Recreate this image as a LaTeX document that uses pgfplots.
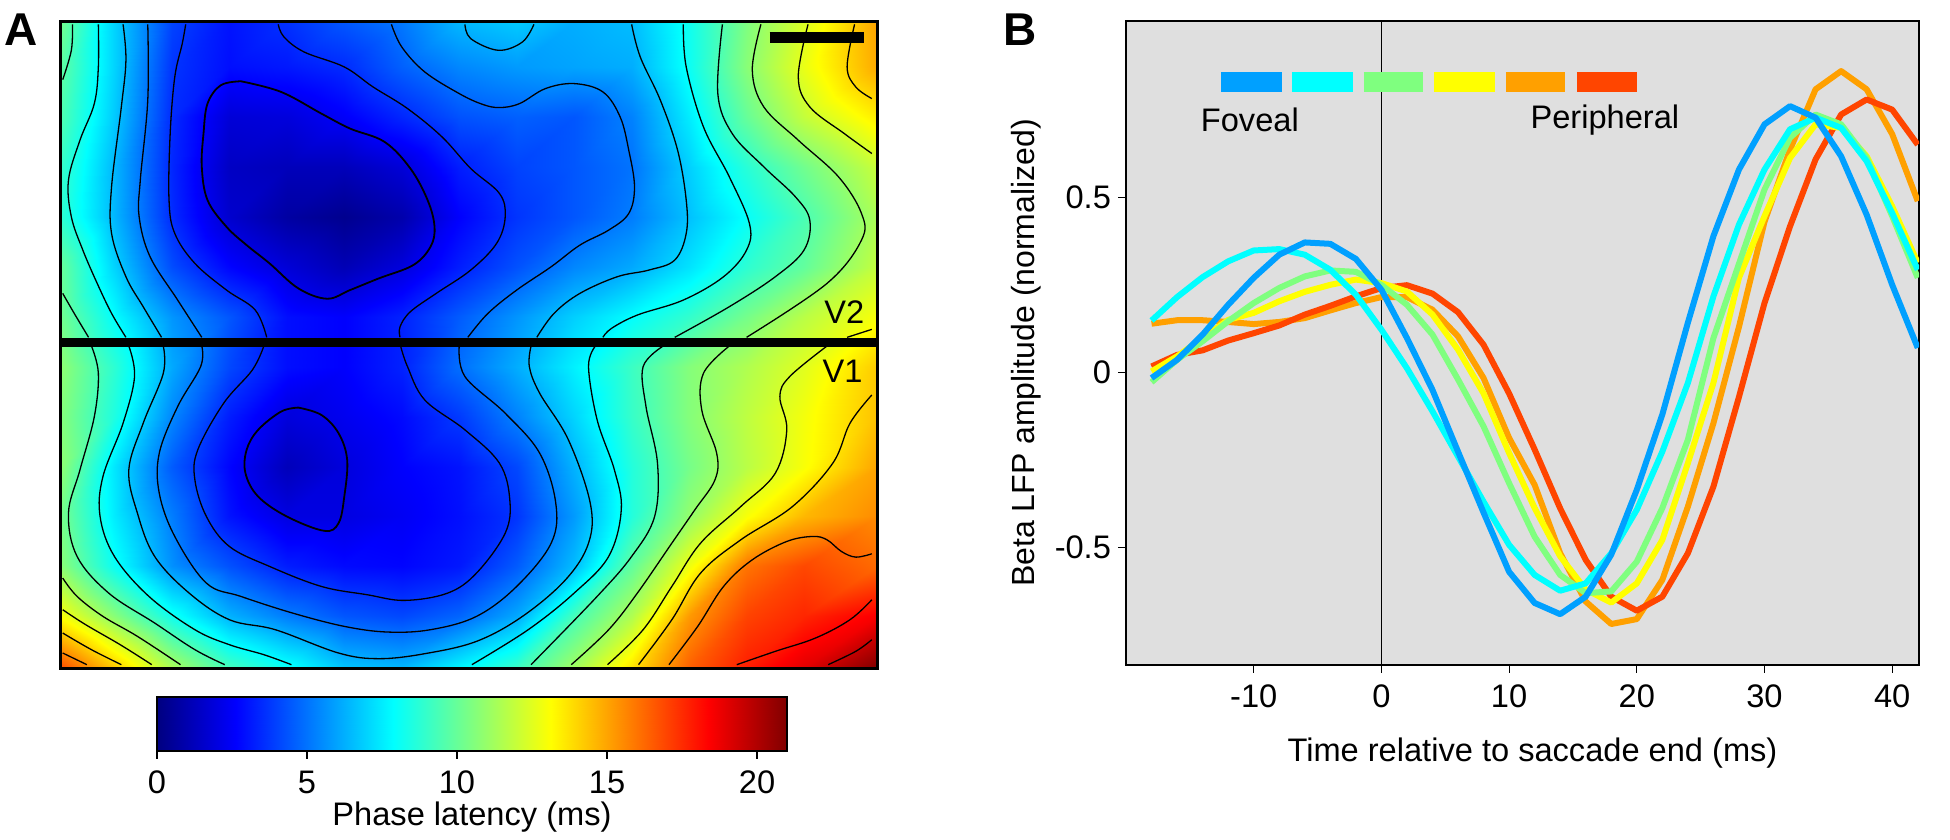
\documentclass[border=0pt]{standalone}
\usepackage{fontspec}
\setmainfont{Liberation Sans}
\usepackage{pgfplots}
\usepackage{pgfplotstable}
\pgfplotsset{compat=1.18}

\newcommand{\lab}{\fontsize{16.3}{19}\selectfont}
\definecolor{c1}{HTML}{00A0FF}
\definecolor{c2}{HTML}{00FFFF}
\definecolor{c3}{HTML}{7FFF7F}
\definecolor{c4}{HTML}{FFFF00}
\definecolor{c5}{HTML}{FFA000}
\definecolor{c6}{HTML}{FF4500}

\pgfplotsset{
  cline/.style={black, line width=0.65pt, smooth, tension=0.6},
  lower/.style={y filter/.expression={y+990}},
  curve/.style={line width=3pt, line join=round},
  key/.style={line width=10pt},
}

% beta LFP amplitude, one column per eccentricity
\pgfplotstableread{
t b c g y o r
-18 -0.016 0.148 -0.028 0.003 0.139 0.017
-16 0.036 0.215 0.036 0.046 0.149 0.05
-14 0.108 0.272 0.089 0.098 0.149 0.063
-12 0.193 0.317 0.146 0.15 0.144 0.091
-10 0.27 0.348 0.198 0.17 0.138 0.112
-8 0.336 0.352 0.241 0.203 0.144 0.134
-6 0.371 0.336 0.274 0.23 0.155 0.165
-4 0.367 0.293 0.291 0.25 0.177 0.19
-2 0.324 0.222 0.287 0.265 0.198 0.217
0 0.236 0.122 0.25 0.255 0.215 0.241
2 0.098 0.012 0.193 0.231 0.215 0.249
4 -0.05 -0.111 0.108 0.165 0.179 0.225
6 -0.226 -0.24 -0.02 0.065 0.103 0.172
8 -0.4 -0.369 -0.154 -0.06 -0.016 0.079
10 -0.569 -0.492 -0.316 -0.23 -0.187 -0.06
12 -0.658 -0.578 -0.469 -0.387 -0.321 -0.22
14 -0.69 -0.623 -0.578 -0.525 -0.516 -0.388
16 -0.64 -0.602 -0.63 -0.62 -0.654 -0.535
18 -0.52 -0.516 -0.625 -0.657 -0.718 -0.64
20 -0.335 -0.392 -0.54 -0.602 -0.704 -0.68
22 -0.12 -0.226 -0.387 -0.478 -0.592 -0.64
24 0.142 -0.03 -0.192 -0.259 -0.383 -0.516
26 0.389 0.217 0.098 -0.03 -0.145 -0.326
28 0.579 0.422 0.31 0.27 0.13 -0.07
30 0.708 0.579 0.522 0.446 0.43 0.198
32 0.76 0.694 0.67 0.612 0.636 0.417
34 0.727 0.727 0.736 0.708 0.808 0.608
36 0.617 0.698 0.708 0.698 0.86 0.736
38 0.45 0.603 0.612 0.617 0.808 0.779
40 0.25 0.455 0.446 0.474 0.68 0.75
42 0.07 0.293 0.27 0.313 0.489 0.65
}\lfp

\begin{document}
\begin{tikzpicture}
\useasboundingbox (0,0) rectangle (975pt,420pt);

\begin{axis}[
  at={(30.5pt,86pt)}, anchor=south west,
  scale only axis, width=408pt, height=323pt,
  xmin=107, xmax=1527, ymin=65, ymax=2005,
  y dir=reverse,
  ticks=none, axis line style={line width=1.5pt},
  axis on top,
  colormap/jet, point meta min=0, point meta max=21,
]
% latency on a coarse grid, x y latency
\addplot[surf, shader=interp, mesh/cols=15, point meta=explicit]
  table[meta=z, row sep=\\] {
x y z\\
107 65 10.2\\ 200 65 7\\ 300 65 4\\ 400 65 3\\ 500 65 3.6\\ 600 65 4.4\\ 700 65 5.1\\ 800 65 6.4\\ 900 65 6.8\\ 1000 65 6.2\\ 1100 65 6.5\\ 1200 65 8.2\\ 1300 65 10.5\\ 1400 65 12.4\\ 1527 65 15\\
107 200 9.8\\ 200 200 7\\ 300 200 3.7\\ 400 200 2.9\\ 500 200 3.1\\ 600 200 3.5\\ 700 200 4.6\\ 800 200 5.4\\ 900 200 5.8\\ 1000 200 6\\ 1100 200 6.2\\ 1200 200 8.1\\ 1300 200 10.7\\ 1400 200 12.7\\ 1527 200 14.9\\
107 350 9.5\\ 200 350 6.8\\ 300 350 3.5\\ 400 350 1.8\\ 500 350 1.9\\ 600 350 2.5\\ 700 350 3.4\\ 800 350 4.3\\ 900 350 4.6\\ 1000 350 4.4\\ 1100 350 5.3\\ 1200 350 7.5\\ 1300 350 10\\ 1400 350 11.9\\ 1527 350 13.5\\
107 500 9\\ 200 500 6.4\\ 300 500 3.4\\ 400 500 1.4\\ 500 500 1.2\\ 600 500 1.2\\ 700 500 1.8\\ 800 500 3.2\\ 900 500 4\\ 1000 500 4.4\\ 1100 500 5\\ 1200 500 6.9\\ 1300 500 8.7\\ 1400 500 10.2\\ 1527 500 12\\
107 650 8.8\\ 200 650 6.4\\ 300 650 3.5\\ 400 650 1.6\\ 500 650 0.7\\ 600 650 0.3\\ 700 650 0.9\\ 800 650 2.6\\ 900 650 3.7\\ 1000 650 4.4\\ 1100 650 5.2\\ 1200 650 6.6\\ 1300 650 8\\ 1400 650 9.4\\ 1527 650 11.4\\
107 800 10\\ 200 800 7\\ 300 800 4.2\\ 400 800 2.7\\ 500 800 1.8\\ 600 800 1.1\\ 700 800 1.9\\ 800 800 3.2\\ 900 800 4.3\\ 1000 800 5.4\\ 1100 800 6.1\\ 1200 800 7.3\\ 1300 800 8.8\\ 1400 800 9.9\\ 1527 800 11.9\\
107 950 10.2\\ 200 950 7.9\\ 300 950 5.7\\ 400 950 4.4\\ 500 950 2.9\\ 600 950 2.6\\ 700 950 3.3\\ 800 950 4.5\\ 900 950 5.7\\ 1000 950 6.9\\ 1100 950 7.9\\ 1200 950 8.9\\ 1300 950 10.3\\ 1400 950 11.7\\ 1527 950 13\\
107 1100 10.8\\ 200 1100 8.8\\ 300 1100 6.1\\ 400 1100 4.1\\ 500 1100 2.9\\ 600 1100 2.6\\ 700 1100 3.3\\ 800 1100 4.9\\ 900 1100 6.2\\ 1000 1100 7.6\\ 1100 1100 9.1\\ 1200 1100 10.6\\ 1300 1100 11.5\\ 1400 1100 12.5\\ 1527 1100 14.2\\
107 1250 10.6\\ 200 1250 8.5\\ 300 1250 5.4\\ 400 1250 3.2\\ 500 1250 1.9\\ 600 1250 2.3\\ 700 1250 2.8\\ 800 1250 3.8\\ 900 1250 5.3\\ 1000 1250 7\\ 1100 1250 9\\ 1200 1250 10.6\\ 1300 1250 11.8\\ 1400 1250 12.9\\ 1527 1250 14.4\\
107 1400 10.8\\ 200 1400 7.4\\ 300 1400 4.5\\ 400 1400 2.7\\ 500 1400 1.2\\ 600 1400 1.9\\ 700 1400 2.6\\ 800 1400 3\\ 900 1400 4.1\\ 1000 1400 6.3\\ 1100 1400 8.6\\ 1200 1400 10.3\\ 1300 1400 11.7\\ 1400 1400 13\\ 1527 1400 15\\
107 1550 10.3\\ 200 1550 7.5\\ 300 1550 5.2\\ 400 1550 3\\ 500 1550 2\\ 600 1550 2\\ 700 1550 2.4\\ 800 1550 2.9\\ 900 1550 3.7\\ 1000 1550 5.8\\ 1100 1550 8.6\\ 1200 1550 10.9\\ 1300 1550 13\\ 1400 1550 14.6\\ 1527 1550 15.5\\
107 1700 10.7\\ 200 1700 8.1\\ 300 1700 5.6\\ 400 1700 4.3\\ 500 1700 3.2\\ 600 1700 2.8\\ 700 1700 2.7\\ 800 1700 3.1\\ 900 1700 4.5\\ 1000 1700 6.5\\ 1100 1700 9.9\\ 1200 1700 12.8\\ 1300 1700 16\\ 1400 1700 16.9\\ 1527 1700 16.2\\
107 1850 13\\ 200 1850 10.7\\ 300 1850 8.2\\ 400 1850 6.3\\ 500 1850 5.2\\ 600 1850 4.4\\ 700 1850 4.1\\ 800 1850 4.7\\ 900 1850 6.1\\ 1000 1850 9.3\\ 1100 1850 11.5\\ 1200 1850 15.2\\ 1300 1850 17\\ 1400 1850 17.6\\ 1527 1850 18.5\\
107 2005 16.8\\ 200 2005 14.3\\ 300 2005 11.4\\ 400 2005 9.3\\ 500 2005 8.1\\ 600 2005 6.7\\ 700 2005 6.4\\ 800 2005 7.7\\ 900 2005 9.1\\ 1000 2005 11.2\\ 1100 2005 13.7\\ 1200 2005 16.4\\ 1300 2005 17.8\\ 1400 2005 19\\ 1527 2005 21\\
};

% contours, V2 half
\addplot[cline] coordinates {(127,72)(125,150)(110,238)};
\addplot[cline] coordinates {(172,72)(172,200)(165,310)(140,420)(120,540)(125,650)(145,750)(170,850)(195,940)(220,1012)};
\addplot[cline] coordinates {(215,72)(220,180)(212,320)(195,560)(195,700)(220,830)(250,920)(282,1012)};
\addplot[cline] coordinates {(258,72)(258,300)(245,540)(243,650)(262,770)(310,900)(352,1012)};
\addplot[cline] coordinates {(324,72)(318,130)(305,230)(297,400)(295,600)(305,700)(340,790)(395,870)(445,930)(465,1012)};
\addplot[cline, line width=0.9pt] coordinates {(420,243)(385,255)(362,310)(355,400)(352,500)(362,600)(395,680)(430,735)(470,790)(520,865)(570,896)(610,870)(660,835)(720,795)(750,740)(757,680)(745,600)(715,505)(670,425)(610,385)(560,340)(490,275)(420,243)};
\addplot[cline] coordinates {(485,72)(495,110)(530,155)(600,200)(650,260)(710,325)(770,410)(820,505)(870,580)(880,650)(865,730)(820,810)(760,880)(715,935)(697,980)(697,1012)};
\addplot[cline] coordinates {(682,72)(700,140)(740,215)(800,280)(840,312)(870,322)(905,310)(950,265)(1000,250)(1050,275)(1080,350)(1095,450)(1105,560)(1095,640)(1060,690)(1010,735)(960,800)(900,870)(850,940)(815,1012)};
\addplot[cline] coordinates {(810,72)(820,115)(868,150)(910,125)(930,72)};
\addplot[cline] coordinates {(1100,72)(1115,170)(1150,300)(1180,450)(1195,600)(1195,700)(1175,780)(1130,810)(1075,830)(1010,880)(965,940)(935,1012)};
\addplot[cline] coordinates {(1190,72)(1195,200)(1225,380)(1270,530)(1305,670)(1300,750)(1260,830)(1190,900)(1110,945)(1065,985)(1050,1012)};
\addplot[cline] coordinates {(1258,72)(1250,280)(1275,400)(1330,500)(1385,590)(1410,660)(1400,750)(1350,830)(1270,920)(1175,1012)};
\addplot[cline] coordinates {(1325,72)(1310,210)(1330,320)(1390,420)(1460,530)(1500,640)(1500,720)(1440,850)(1300,1012)};
\addplot[cline] coordinates {(1407,72)(1390,230)(1410,320)(1470,400)(1518,460)};
\addplot[cline] coordinates {(1488,72)(1475,200)(1490,260)(1518,295)};
\addplot[cline] coordinates {(110,880)(130,940)(155,1012)};
\addplot[cline] coordinates {(1475,1012)(1518,988)};

% contours, V1 half, y counted from 330 px down
\addplot[cline, lower] coordinates {(160,48)(172,130)(165,260)(140,420)(120,550)(135,680)(190,790)(270,880)(340,960)(392,1005)};
\addplot[cline, lower] coordinates {(225,48)(235,140)(215,280)(180,440)(175,560)(200,680)(260,800)(340,900)(400,945)(460,975)(508,1005)};
\addplot[cline, lower] coordinates {(285,48)(285,130)(250,280)(225,420)(240,550)(270,680)(330,790)(400,870)(480,900)(590,970)(660,987)(740,972)(830,935)(910,860)(985,750)(1025,640)(1028,520)(990,330)(940,190)(922,110)(925,48)};
\addplot[cline, lower] coordinates {(352,48)(350,110)(310,230)(278,370)(278,490)(305,620)(360,760)(420,800)(510,850)(600,890)(675,907)(750,900)(830,860)(900,770)(960,640)(968,520)(940,370)(880,250)(810,140)(800,48)};
\addplot[cline, lower] coordinates {(460,48)(440,120)(390,220)(345,360)(340,450)(360,560)(400,650)(470,710)(560,770)(640,795)(705,812)(780,790)(830,730)(880,610)(888,510)(870,400)(810,300)(740,210)(710,110)(698,48)};
\addplot[cline, lower, line width=0.9pt] coordinates {(520,233)(490,245)(450,300)(430,360)(428,430)(450,500)(500,560)(565,603)(590,580)(600,500)(605,390)(590,310)(560,255)(520,233)};
\addplot[cline, lower] coordinates {(1037,48)(1025,110)(1040,270)(1070,420)(1082,540)(1060,680)(1000,790)(920,900)(822,1005)};
\addplot[cline, lower] coordinates {(1155,48)(1120,110)(1125,230)(1145,400)(1140,560)(1100,680)(1040,800)(925,1005)};
\addplot[cline, lower] coordinates {(1270,48)(1225,130)(1222,240)(1248,370)(1245,450)(1210,540)(1170,640)(1110,790)(1060,900)(995,1005)};
\addplot[cline, lower] coordinates {(1440,48)(1375,140)(1358,200)(1370,300)(1350,430)(1290,530)(1220,640)(1170,770)(1120,900)(1058,1005)};
\addplot[cline, lower] coordinates {(1518,195)(1480,280)(1450,400)(1380,530)(1290,630)(1220,730)(1170,870)(1112,1005)};
\addplot[cline, lower] coordinates {(1518,672)(1490,682)(1465,665)(1440,630)(1415,620)(1370,635)(1310,690)(1260,770)(1215,890)(1165,1005)};
\addplot[cline, lower] coordinates {(1518,810)(1480,870)(1420,925)(1350,965)(1283,1005)};
\addplot[cline, lower] coordinates {(1518,930)(1490,965)(1442,1005)};
\addplot[cline, lower] coordinates {(110,745)(135,800)(180,860)(240,920)(315,1005)};
\addplot[cline, lower] coordinates {(110,840)(150,885)(210,945)(265,1005)};
\addplot[cline, lower] coordinates {(110,910)(160,960)(212,1005)};
\addplot[cline, lower] coordinates {(110,970)(152,1005)};

% V1/V2 border and scale bar
\addplot[black, line width=4.2pt] coordinates {(107,1027)(1527,1027)};
\addplot[black, line width=5.5pt] coordinates {(1340,113)(1505,113)};
\node[font=\lab] at (axis cs:1470,935) {V2};
\node[font=\lab] at (axis cs:1467,1115) {V1};
\end{axis}

% colour scale of panel A
\begin{axis}[
  at={(78.5pt,44.5pt)}, anchor=south west,
  scale only axis, width=315pt, height=27pt,
  xmin=0, xmax=21, ymin=0, ymax=1,
  axis on top,
  colormap/jet, point meta min=0, point meta max=21,
  xtick={0,5,10,15,20}, xtick pos=bottom, ytick=\empty, tick align=outside,
  major tick length=4pt, xtick style={black, line width=0.6pt},
  axis line style={line width=0.7pt},
  xticklabel style={font=\lab, yshift=-2.5pt},
  /pgf/number format/assume math mode=true,
  xlabel={Phase latency (ms)}, xlabel style={font=\lab, yshift=3pt},
]
\addplot[surf, shader=interp, mesh/cols=22, point meta=x] table[row sep=\\] {
x y\\
0 0\\ 1 0\\ 2 0\\ 3 0\\ 4 0\\ 5 0\\ 6 0\\ 7 0\\ 8 0\\ 9 0\\ 10 0\\ 11 0\\ 12 0\\ 13 0\\ 14 0\\ 15 0\\ 16 0\\ 17 0\\ 18 0\\ 19 0\\ 20 0\\ 21 0\\
0 1\\ 1 1\\ 2 1\\ 3 1\\ 4 1\\ 5 1\\ 6 1\\ 7 1\\ 8 1\\ 9 1\\ 10 1\\ 11 1\\ 12 1\\ 13 1\\ 14 1\\ 15 1\\ 16 1\\ 17 1\\ 18 1\\ 19 1\\ 20 1\\ 21 1\\
};
\end{axis}

\begin{axis}[
  at={(563pt,87.5pt)}, anchor=south west,
  scale only axis, width=396.5pt, height=322pt,
  xmin=-20, xmax=42.1, ymin=-0.835, ymax=1.003,
  axis background/.style={fill=black!12.5},
  axis line style={line width=0.6pt},
  tick align=outside, xtick pos=bottom, ytick pos=left,
  major tick length=4pt, tick style={black, line width=0.6pt},
  xtick={-10,0,10,20,30,40}, xticklabels={-10,0,10,20,30,40},
  ytick={-0.5,0,0.5}, yticklabels={-0.5,0,0.5},
  xticklabel style={font=\lab, yshift=-2.5pt},
  yticklabel style={font=\lab},
  xlabel={Time relative to saccade end (ms)},
  ylabel={Beta LFP amplitude (normalized)},
  xlabel style={font=\lab, yshift=-8pt, xshift=5pt},
  ylabel style={font=\fontsize{16}{19}\selectfont, xshift=-5pt},
]
\addplot[black, line width=0.7pt] coordinates {(0,-0.835)(0,1.003)};
\addplot[c5, curve] table[x=t, y=o] {\lfp};
\addplot[c6, curve] table[x=t, y=r] {\lfp};
\addplot[c4, curve] table[x=t, y=y] {\lfp};
\addplot[c3, curve] table[x=t, y=g] {\lfp};
\addplot[c2, curve] table[x=t, y=c] {\lfp};
\addplot[c1, curve] table[x=t, y=b] {\lfp};
\addplot[c1, key] coordinates {(-12.58,0.829)(-7.8,0.829)};
\addplot[c2, key] coordinates {(-7.02,0.829)(-2.25,0.829)};
\addplot[c3, key] coordinates {(-1.39,0.829)(3.24,0.829)};
\addplot[c4, key] coordinates {(4.1,0.829)(8.9,0.829)};
\addplot[c5, key] coordinates {(9.74,0.829)(14.4,0.829)};
\addplot[c6, key] coordinates {(15.3,0.829)(20,0.829)};
\node[font=\lab] at (axis cs:-10.3,0.72) {Foveal};
\node[font=\lab] at (axis cs:17.5,0.72) {Peripheral};
\end{axis}

\node[font=\fontsize{23}{26}\selectfont\bfseries] at (10.5pt,405pt) {A};
\node[font=\fontsize{23}{26}\selectfont\bfseries] at (510pt,405pt) {B};
\end{tikzpicture}
\end{document}
